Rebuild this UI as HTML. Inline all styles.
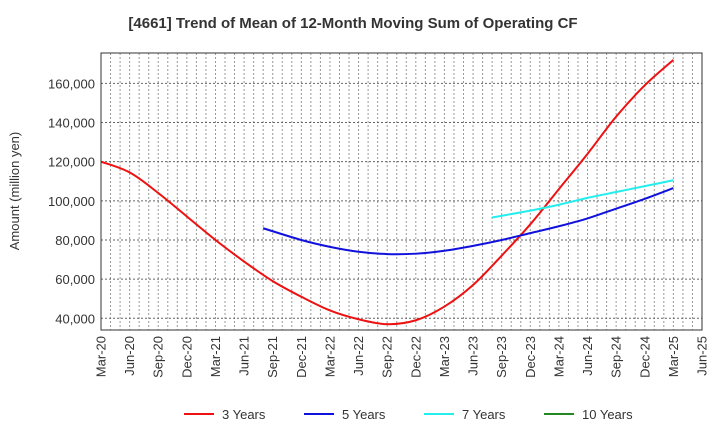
<!DOCTYPE html>
<html><head><meta charset="utf-8"><style>
body{margin:0;background:#fff;font-family:"Liberation Sans",sans-serif}
</style></head><body>
<svg id="c" width="720" height="440" xmlns="http://www.w3.org/2000/svg">
<text x="353" y="28" text-anchor="middle" font-size="15" font-weight="bold" fill="#333">[4661]  Trend of Mean of 12-Month Moving Sum of Operating CF</text>
<text transform="translate(19,191) rotate(-90)" text-anchor="middle" font-size="13" fill="#333">Amount (million yen)</text>
<g id="grid"></g><g id="series"></g><g id="axes"></g>
</svg>
<script>
const xLabels=["Mar-20","Jun-20","Sep-20","Dec-20","Mar-21","Jun-21","Sep-21","Dec-21","Mar-22","Jun-22","Sep-22","Dec-22","Mar-23","Jun-23","Sep-23","Dec-23","Mar-24","Jun-24","Sep-24","Dec-24","Mar-25","Jun-25"];
const yTicks=[40000,60000,80000,100000,120000,140000,160000];
const r3Months=[0,3,6,9,12,15,18,21,24,27,30,33,36,39,42,45,48,51,54,57,60];
const r3Vals=[120,114.5,104,92,80,69,59,51,44,39.5,37,39,46,57,72,88,106,124,143,159,172];
const r5Months=[17,21,24,27,30,33,36,39,42,45,48,51,54,57,60];
const r5Vals=[86,80,76.5,74,72.8,73,74.5,77,80,83.5,87,91,96,101,106.5];
const r7Months=[41,45,48,51,54,57,60];
const r7Vals=[91.5,95,98,101.5,104.5,107.5,110.5];
const r10Months=[];const r10Vals=[];
const L=101,R=702,T=53,B=330,NM=63;
const X=m=>L+(R-L)*m/NM;
const Y=v=>318.3-(v-40000)*1.958/1000;
const ns="http://www.w3.org/2000/svg";
function mk(t,a,p){const e=document.createElementNS(ns,t);for(const k in a)e.setAttribute(k,a[k]);p.appendChild(e);return e;}
const g=document.getElementById('grid'),ax=document.getElementById('axes'),s=document.getElementById('series');
for(let m=1;m<NM;m++){const l=mk('line',{x1:X(m),x2:X(m),y1:T,y2:B,stroke:'#999','stroke-width':1,'stroke-dasharray':'2,2'},g);

}
yTicks.forEach(v=>{const l=mk('line',{x1:L,x2:R,y1:Y(v),y2:Y(v),stroke:'#666','stroke-width':1,'stroke-dasharray':'2,2'},g);


const t=mk('text',{x:L-6,y:Y(v)+5,'text-anchor':'end','font-size':13,fill:'#333'},ax);t.textContent=v.toLocaleString('en-US');

});
xLabels.forEach((lb,i)=>{const x=X(i*3);const t=mk('text',{transform:`translate(${x+4.5},${B+6}) rotate(-90)`,'text-anchor':'end','font-size':13,fill:'#333'},ax);t.textContent=lb;

});
const fr=mk('rect',{x:L,y:T,width:R-L,height:B-T,fill:'none',stroke:'#333','stroke-width':1},ax);


function path(ms,vs,col,name){if(!ms.length)return;const P=ms.map((m,i)=>[X(m),Y(vs[i]*1000)]);
let d=`M${P[0][0]},${P[0][1]}`;for(let i=0;i<P.length-1;i++){const p0=P[i-1]||P[i],p1=P[i],p2=P[i+1],p3=P[i+2]||P[i+1];
d+=` C${p1[0]+(p2[0]-p0[0])/6},${p1[1]+(p2[1]-p0[1])/6} ${p2[0]-(p3[0]-p1[0])/6},${p2[1]-(p3[1]-p1[1])/6} ${p2[0]},${p2[1]}`;}
const e=mk('path',{d,fill:'none',stroke:col,'stroke-width':2},s);

}
path(r3Months,r3Vals,'#ee1111','line-3-years');
path(r5Months,r5Vals,'#1111dd','line-5-years');
path(r7Months,r7Vals,'#22eeee','line-7-years');
path(r10Months,r10Vals,'#228822','line-10-years');
const leg=[["3 Years","#ee1111",184],["5 Years","#1111dd",304],["7 Years","#22eeee",424],["10 Years","#228822",544]];
leg.forEach(([n,c,x])=>{const gg=mk('g',{},s);


mk('line',{x1:x,x2:x+30,y1:414,y2:414,stroke:c,'stroke-width':2},gg);
const t=mk('text',{x:x+38,y:419,'font-size':13,fill:'#333'},gg);t.textContent=n;});
</script>
</body></html>
